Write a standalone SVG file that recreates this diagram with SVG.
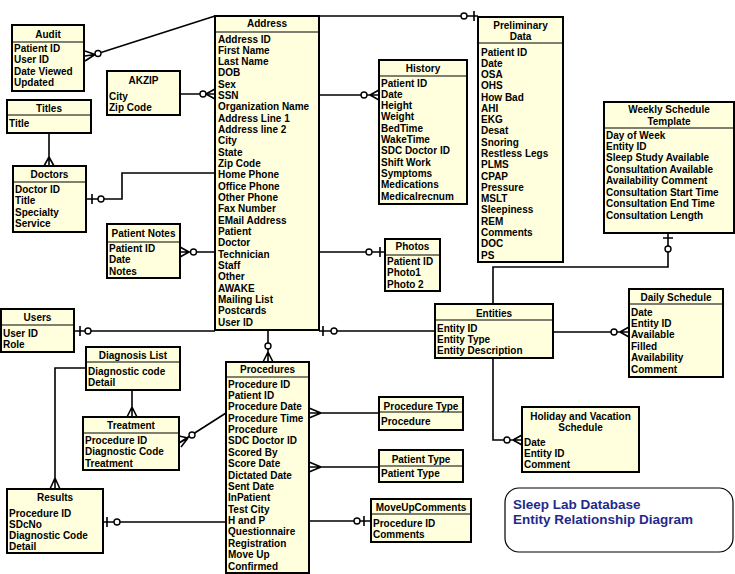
<svg xmlns="http://www.w3.org/2000/svg" width="735" height="574" viewBox="0 0 735 574">
<style>
.box{fill:#FFFFDE;stroke:#000;stroke-width:2}
.dv{stroke:#000;stroke-width:1}
.t{font-family:"Liberation Sans",Arial,sans-serif;font-size:10px;font-weight:bold;fill:#000}
.h{text-anchor:middle}
.c{fill:none;stroke:#000;stroke-width:1.6}
.o{fill:#fff;stroke:#000;stroke-width:1.4}
.ttl{font-family:"Liberation Sans",Arial,sans-serif;font-size:13.5px;font-weight:bold;fill:#1F2A8C}
</style>
<rect width="735" height="574" fill="#fff"/>
<g id="connectors">
  <!-- Audit - Address -->
  <path class="c" d="M215,16 L101,52.5"/>
  <circle class="o" cx="98" cy="53.5" r="3"/>
  <path class="c" d="M95,54.5 L85,51 M95,54.5 L85,56 M95,54.5 L85,61"/>
  <!-- AKZIP - Address -->
  <path class="c" d="M180,94 H215"/>
  <circle class="o" cx="203" cy="94" r="3"/>
  <path class="c" d="M206,94 L215,89 M206,94 L215,99"/>
  <!-- Titles - Doctors -->
  <path class="c" d="M49,133 V166 M49,157 L44,166 M49,157 L54,166"/>
  <!-- Doctors - Address -->
  <path class="c" d="M86,199 H122 V173 H215 M92,194 V204"/>
  <circle class="o" cx="101" cy="199" r="3"/>
  <!-- Patient Notes - Address -->
  <path class="c" d="M180,252 H215 M189,252 L180,247 M189,252 L180,257"/>
  <circle class="o" cx="193.5" cy="252" r="3"/>
  <!-- Users - Address -->
  <path class="c" d="M74,331 H215 M80,326 V336"/>
  <circle class="o" cx="88" cy="331" r="3"/>
  <!-- Address - Entities -->
  <path class="c" d="M319,331 H435 M323,326 V336"/>
  <circle class="o" cx="334" cy="331" r="3"/>
  <!-- Address - History -->
  <path class="c" d="M319,95 H379 M370,95 L379,90 M370,95 L379,100"/>
  <circle class="o" cx="364" cy="95" r="3"/>
  <!-- Address - Photos -->
  <path class="c" d="M319,252 H385 M380,247 V257"/>
  <circle class="o" cx="369" cy="252" r="3"/>
  <!-- Address - Preliminary Data -->
  <path class="c" d="M319,16 H478 M474,11 V21"/>
  <circle class="o" cx="464" cy="16" r="3"/>
  <!-- Address - Procedures -->
  <path class="c" d="M268,330 V362 M268,352 L263,362 M268,352 L273,362"/>
  <circle class="o" cx="268" cy="346" r="3"/>
  <!-- Procedures - Procedure Type -->
  <path class="c" d="M309,413 H379 M321,413 L309,408 M321,413 L309,418"/>
  <!-- Procedures - Patient Type -->
  <path class="c" d="M309,467 H379 M321,467 L309,462 M321,467 L309,472"/>
  <!-- Procedures - MoveUpComments -->
  <path class="c" d="M309,521 H371 M364,516 V526"/>
  <circle class="o" cx="357" cy="521" r="3"/>
  <!-- Results - Procedures -->
  <path class="c" d="M103,522 H226 M107,517 V527"/>
  <circle class="o" cx="117" cy="522" r="3"/>
  <!-- Treatment - Procedures -->
  <path class="c" d="M179,443 L226,413 M188,438 L179,436 M188,438 L179,443 M188,438 L181,447"/>
  <circle class="o" cx="192" cy="435" r="3"/>
  <!-- Diagnosis List - Results -->
  <path class="c" d="M86,368 H55 V489 M55,478 L50,489 M55,478 L60,489"/>
  <!-- Diagnosis List - Treatment -->
  <path class="c" d="M132,390 V417 M132,407 L127,417 M132,407 L137,417"/>
  <!-- Weekly Schedule Template - Entities -->
  <path class="c" d="M668,233 V267 H493 V304 M663,238 H673"/>
  <circle class="o" cx="668" cy="249" r="3"/>
  <!-- Entities - Daily Schedule -->
  <path class="c" d="M553,332 H629 M620,332 L629,327 M620,332 L629,337"/>
  <circle class="o" cx="614" cy="332" r="3"/>
  <!-- Entities - Holiday -->
  <path class="c" d="M493,358 V440 H522 M513,440 L522,435 M513,440 L522,445"/>
  <circle class="o" cx="507" cy="440" r="3"/>
</g>

<g id="audit">
  <rect class="box" x="12" y="25" width="72" height="66"/>
  <line class="dv" x1="12" y1="42" x2="84" y2="42"/>
  <text class="t h" x="48" y="37.5">Audit</text>
  <text class="t" x="14" y="51.5"><tspan x="14">Patient ID</tspan><tspan x="14" dy="11.5">User ID</tspan><tspan x="14" dy="11.5">Date Viewed</tspan><tspan x="14" dy="11.5">Updated</tspan></text>
</g>

<g id="akzip">
  <rect class="box" x="107" y="71" width="73" height="44"/>
  <text class="t h" x="143.5" y="83.5">AKZIP</text>
  <text class="t" x="109" y="99.5"><tspan x="109">City</tspan><tspan x="109" dy="11">Zip Code</tspan></text>
</g>

<g id="titles">
  <rect class="box" x="7" y="100" width="84" height="33"/>
  <line class="dv" x1="7" y1="115" x2="91" y2="115"/>
  <text class="t h" x="49" y="111.5">Titles</text>
  <text class="t" x="9" y="126.5">Title</text>
</g>

<g id="doctors">
  <rect class="box" x="13" y="166" width="73" height="66"/>
  <line class="dv" x1="13" y1="182" x2="86" y2="182"/>
  <text class="t h" x="49.5" y="177.5">Doctors</text>
  <text class="t" x="15" y="192.5"><tspan x="15">Doctor ID</tspan><tspan x="15" dy="11.5">Title</tspan><tspan x="15" dy="11.5">Specialty</tspan><tspan x="15" dy="11.5">Service</tspan></text>
</g>

<g id="patient-notes">
  <rect class="box" x="107" y="224" width="73" height="54"/>
  <line class="dv" x1="107" y1="242" x2="180" y2="242"/>
  <text class="t h" x="143.5" y="236.5">Patient Notes</text>
  <text class="t" x="109" y="251.5"><tspan x="109">Patient ID</tspan><tspan x="109" dy="11.5">Date</tspan><tspan x="109" dy="11.5">Notes</tspan></text>
</g>

<g id="users">
  <rect class="box" x="1" y="309" width="73" height="43"/>
  <line class="dv" x1="1" y1="325" x2="74" y2="325"/>
  <text class="t h" x="37.5" y="320.5">Users</text>
  <text class="t" x="3" y="336.5"><tspan x="3">User ID</tspan><tspan x="3" dy="11.5">Role</tspan></text>
</g>

<g id="diagnosis-list">
  <rect class="box" x="86" y="347" width="94" height="43"/>
  <line class="dv" x1="86" y1="362" x2="180" y2="362"/>
  <text class="t h" x="133" y="358.5">Diagnosis List</text>
  <text class="t" x="88" y="374.5"><tspan x="88">Diagnostic code</tspan><tspan x="88" dy="11">Detail</tspan></text>
</g>

<g id="treatment">
  <rect class="box" x="83" y="417" width="96" height="53"/>
  <line class="dv" x1="83" y1="433" x2="179" y2="433"/>
  <text class="t h" x="131" y="428.5">Treatment</text>
  <text class="t" x="85" y="443.5"><tspan x="85">Procedure ID</tspan><tspan x="85" dy="11.5">Diagnostic Code</tspan><tspan x="85" dy="11.5">Treatment</tspan></text>
</g>

<g id="results">
  <rect class="box" x="7" y="489" width="96" height="64"/>
  <text class="t h" x="55" y="500.5">Results</text>
  <text class="t" x="9" y="516.5"><tspan x="9">Procedure ID</tspan><tspan x="9" dy="11">SDcNo</tspan><tspan x="9" dy="11">Diagnostic Code</tspan><tspan x="9" dy="11">Detail</tspan></text>
</g>

<g id="address">
  <rect class="box" x="215" y="16" width="104" height="314"/>
  <line class="dv" x1="215" y1="32" x2="319" y2="32"/>
  <text class="t h" x="267" y="27">Address</text>
  <text class="t" x="218" y="42.5"><tspan x="218">Address ID</tspan><tspan x="218" dy="11.32">First Name</tspan><tspan x="218" dy="11.32">Last Name</tspan><tspan x="218" dy="11.32">DOB</tspan><tspan x="218" dy="11.32">Sex</tspan><tspan x="218" dy="11.32">SSN</tspan><tspan x="218" dy="11.32">Organization Name</tspan><tspan x="218" dy="11.32">Address Line 1</tspan><tspan x="218" dy="11.32">Address line 2</tspan><tspan x="218" dy="11.32">City</tspan><tspan x="218" dy="11.32">State</tspan><tspan x="218" dy="11.32">Zip Code</tspan><tspan x="218" dy="11.32">Home Phone</tspan><tspan x="218" dy="11.32">Office Phone</tspan><tspan x="218" dy="11.32">Other Phone</tspan><tspan x="218" dy="11.32">Fax Number</tspan><tspan x="218" dy="11.32">EMail Address</tspan><tspan x="218" dy="11.32">Patient</tspan><tspan x="218" dy="11.32">Doctor</tspan><tspan x="218" dy="11.32">Technician</tspan><tspan x="218" dy="11.32">Staff</tspan><tspan x="218" dy="11.32">Other</tspan><tspan x="218" dy="11.32">AWAKE</tspan><tspan x="218" dy="11.32">Mailing List</tspan><tspan x="218" dy="11.32">Postcards</tspan><tspan x="218" dy="11.32">User ID</tspan></text>
</g>

<g id="procedures">
  <rect class="box" x="226" y="362" width="83" height="211"/>
  <line class="dv" x1="226" y1="377" x2="309" y2="377"/>
  <text class="t h" x="267.5" y="372.5">Procedures</text>
  <text class="t" x="228" y="387.5"><tspan x="228">Procedure ID</tspan><tspan x="228" dy="11.375">Patient ID</tspan><tspan x="228" dy="11.375">Procedure Date</tspan><tspan x="228" dy="11.375">Procedure Time</tspan><tspan x="228" dy="11.375">Procedure</tspan><tspan x="228" dy="11.375">SDC Doctor ID</tspan><tspan x="228" dy="11.375">Scored By</tspan><tspan x="228" dy="11.375">Score Date</tspan><tspan x="228" dy="11.375">Dictated Date</tspan><tspan x="228" dy="11.375">Sent Date</tspan><tspan x="228" dy="11.375">InPatient</tspan><tspan x="228" dy="11.375">Test City</tspan><tspan x="228" dy="11.375">H and P</tspan><tspan x="228" dy="11.375">Questionnaire</tspan><tspan x="228" dy="11.375">Registration</tspan><tspan x="228" dy="11.375">Move Up</tspan><tspan x="228" dy="11.375">Confirmed</tspan></text>
</g>

<g id="history">
  <rect class="box" x="379" y="60" width="88" height="144"/>
  <line class="dv" x1="379" y1="76" x2="467" y2="76"/>
  <text class="t h" x="423" y="71.5">History</text>
  <text class="t" x="381" y="86.5"><tspan x="381">Patient ID</tspan><tspan x="381" dy="11.3">Date</tspan><tspan x="381" dy="11.3">Height</tspan><tspan x="381" dy="11.3">Weight</tspan><tspan x="381" dy="11.3">BedTime</tspan><tspan x="381" dy="11.3">WakeTime</tspan><tspan x="381" dy="11.3">SDC Doctor ID</tspan><tspan x="381" dy="11.3">Shift Work</tspan><tspan x="381" dy="11.3">Symptoms</tspan><tspan x="381" dy="11.3">Medications</tspan><tspan x="381" dy="11.3">Medicalrecnum</tspan></text>
</g>

<g id="photos">
  <rect class="box" x="385" y="239" width="55" height="52"/>
  <line class="dv" x1="385" y1="255" x2="440" y2="255"/>
  <text class="t h" x="412.5" y="249.5">Photos</text>
  <text class="t" x="387" y="264.5"><tspan x="387">Patient ID</tspan><tspan x="387" dy="11.5">Photo1</tspan><tspan x="387" dy="11.5">Photo 2</tspan></text>
</g>

<g id="preliminary-data">
  <rect class="box" x="478" y="17" width="85" height="245"/>
  <line class="dv" x1="478" y1="43" x2="563" y2="43"/>
  <text class="t h" x="520.5" y="28.5">Preliminary</text>
  <text class="t h" x="520.5" y="39.5">Data</text>
  <text class="t" x="481" y="55.5"><tspan x="481">Patient ID</tspan><tspan x="481" dy="11.28">Date</tspan><tspan x="481" dy="11.28">OSA</tspan><tspan x="481" dy="11.28">OHS</tspan><tspan x="481" dy="11.28">How Bad</tspan><tspan x="481" dy="11.28">AHI</tspan><tspan x="481" dy="11.28">EKG</tspan><tspan x="481" dy="11.28">Desat</tspan><tspan x="481" dy="11.28">Snoring</tspan><tspan x="481" dy="11.28">Restless Legs</tspan><tspan x="481" dy="11.28">PLMS</tspan><tspan x="481" dy="11.28">CPAP</tspan><tspan x="481" dy="11.28">Pressure</tspan><tspan x="481" dy="11.28">MSLT</tspan><tspan x="481" dy="11.28">Sleepiness</tspan><tspan x="481" dy="11.28">REM</tspan><tspan x="481" dy="11.28">Comments</tspan><tspan x="481" dy="11.28">DOC</tspan><tspan x="481" dy="11.28">PS</tspan></text>
</g>

<g id="weekly-schedule-template">
  <rect class="box" x="604" y="102" width="130" height="131"/>
  <line class="dv" x1="604" y1="128" x2="734" y2="128"/>
  <text class="t h" x="669" y="112.5">Weekly Schedule</text>
  <text class="t h" x="669" y="124.5">Template</text>
  <text class="t" x="606" y="138.5"><tspan x="606">Day of Week</tspan><tspan x="606" dy="11.45">Entity ID</tspan><tspan x="606" dy="11.45">Sleep Study Available</tspan><tspan x="606" dy="11.45">Consultation Available</tspan><tspan x="606" dy="11.45">Availability Comment</tspan><tspan x="606" dy="11.45">Consultation Start Time</tspan><tspan x="606" dy="11.45">Consultation End Time</tspan><tspan x="606" dy="11.45">Consultation Length</tspan></text>
</g>

<g id="entities">
  <rect class="box" x="435" y="304" width="118" height="54"/>
  <line class="dv" x1="435" y1="320" x2="553" y2="320"/>
  <text class="t h" x="494" y="316.5">Entities</text>
  <text class="t" x="437" y="331.5"><tspan x="437">Entity ID</tspan><tspan x="437" dy="11.3">Entity Type</tspan><tspan x="437" dy="11.3">Entity Description</tspan></text>
</g>

<g id="daily-schedule">
  <rect class="box" x="629" y="289" width="94" height="88"/>
  <line class="dv" x1="629" y1="304" x2="723" y2="304"/>
  <text class="t h" x="676" y="300.5">Daily Schedule</text>
  <text class="t" x="631" y="315.5"><tspan x="631">Date</tspan><tspan x="631" dy="11.4">Entity ID</tspan><tspan x="631" dy="11.4">Available</tspan><tspan x="631" dy="11.4">Filled</tspan><tspan x="631" dy="11.4">Availability</tspan><tspan x="631" dy="11.4">Comment</tspan></text>
</g>

<g id="holiday-vacation-schedule">
  <rect class="box" x="522" y="407" width="117" height="65"/>
  <text class="t h" x="580.5" y="419.5">Holiday and Vacation</text>
  <text class="t h" x="580.5" y="430.5">Schedule</text>
  <text class="t" x="524" y="445.5"><tspan x="524">Date</tspan><tspan x="524" dy="11">Entity ID</tspan><tspan x="524" dy="11">Comment</tspan></text>
</g>

<g id="procedure-type">
  <rect class="box" x="379" y="397" width="84" height="33"/>
  <line class="dv" x1="379" y1="412" x2="463" y2="412"/>
  <text class="t h" x="421" y="409.5">Procedure Type</text>
  <text class="t" x="381" y="424.5">Procedure</text>
</g>

<g id="patient-type">
  <rect class="box" x="379" y="450" width="84" height="32"/>
  <line class="dv" x1="379" y1="466" x2="463" y2="466"/>
  <text class="t h" x="421" y="462.5">Patient Type</text>
  <text class="t" x="381" y="476.5">Patient Type</text>
</g>

<g id="moveupcomments">
  <rect class="box" x="371" y="499" width="100" height="43"/>
  <line class="dv" x1="371" y1="514" x2="471" y2="514"/>
  <text class="t h" x="421" y="510.5">MoveUpComments</text>
  <text class="t" x="373" y="526.5"><tspan x="373">Procedure ID</tspan><tspan x="373" dy="11">Comments</tspan></text>
</g>

<g id="title-block">
  <rect x="505" y="488" width="228" height="64" rx="14" ry="14" fill="#fff" stroke="#000" stroke-width="1.2"/>
  <text class="ttl" x="513" y="508.5">Sleep Lab Database</text>
  <text class="ttl" x="513" y="523.5">Entity Relationship Diagram</text>
</g>
</svg>
